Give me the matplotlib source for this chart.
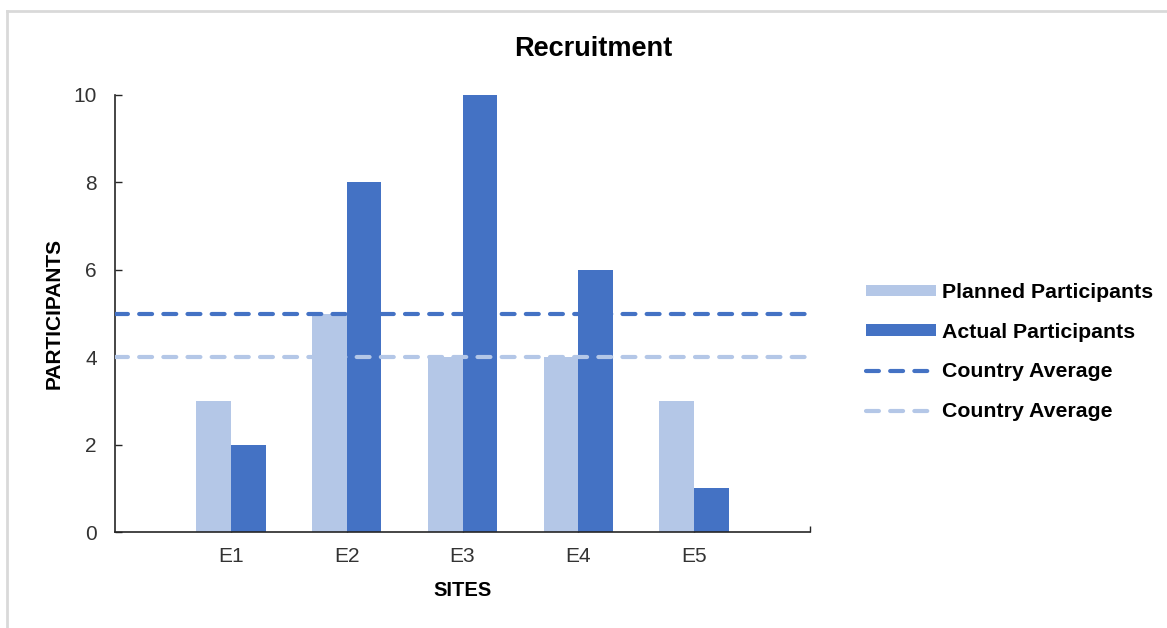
import matplotlib
matplotlib.use("Agg")
import matplotlib.pyplot as plt
from matplotlib.lines import Line2D
import numpy as np

plt.rcParams['font.family'] = ['Liberation Sans', 'DejaVu Sans']

# Data
sites = ["E1", "E2", "E3", "E4", "E5"]
planned = [3, 5, 4, 4, 3]
actual = [2, 8, 10, 6, 1]
country_avg_actual = 5
country_avg_planned = 4
y_ticks = [0, 2, 4, 6, 8, 10]

light_blue = "#B4C7E7"
dark_blue = "#4472C4"
text_col = "#333333"

W, H = 1167, 628
fig = plt.figure(figsize=(W / 100, H / 100), dpi=100)
ax = fig.add_axes([115 / W, 1 - 532 / H, 695 / W, 437 / H])

x = np.arange(1, len(sites) + 1)
bw = 0.3
ax.bar(x - bw / 2, planned, width=bw, color=light_blue, label="Planned Participants", zorder=2)
ax.bar(x + bw / 2, actual, width=bw, color=dark_blue, label="Actual Participants", zorder=2)

dash = (0, (3.1, 2.7))
ax.axhline(country_avg_actual, color=dark_blue, lw=3, linestyle=dash,
           dash_capstyle="round", label="Country Average", zorder=3)
ax.axhline(country_avg_planned, color=light_blue, lw=3, linestyle=dash,
           dash_capstyle="round", label="Country Average", zorder=3)

ax.set_xlim(0, 6)
ax.set_ylim(0, 10)
ax.set_xticks(x)
ax.set_xticklabels(sites)
ax.set_xticks([6], minor=True)
ax.set_yticks(y_ticks)

for s in ["top", "right"]:
    ax.spines[s].set_visible(False)
for s in ["left", "bottom"]:
    ax.spines[s].set_color("#262626")
    ax.spines[s].set_linewidth(1.2)

ax.tick_params(axis="y", direction="in", length=5, width=1.0, pad=13,
               labelsize=15, labelcolor=text_col, color="#262626")
ax.tick_params(axis="x", which="both", direction="in", length=4, width=1.0, pad=11,
               labelsize=15, labelcolor=text_col, color="#262626")

fig.text(593 / W, 1 - 49 / H, "Recruitment", ha="center", va="center",
         fontsize=19.5, fontweight="bold", color="#000000")
fig.text(54 / W, 1 - 313 / H, "PARTICIPANTS", rotation=90, ha="center", va="center",
         fontsize=15, fontweight="bold", color="#000000")
fig.text(463 / W, 1 - 590 / H, "SITES", ha="center", va="center",
         fontsize=14.5, fontweight="bold", color="#000000")

handles, labels = ax.get_legend_handles_labels()
# bars first, then lines
order = [2, 3, 0, 1]
handles = [handles[i] for i in order]
labels = [labels[i] for i in order]
leg = fig.legend(handles, labels, loc="center left", bbox_to_anchor=(866 / W, 1 - 352 / H),
                 frameon=False, borderpad=0, borderaxespad=0, handlelength=3.3,
                 handleheight=0.42, handletextpad=0.28, labelspacing=0.98,
                 prop={"size": 15.3, "weight": "bold"})

# chart frame edges
fig.add_artist(Line2D([7 / W, 1], [1 - 11 / H, 1 - 11 / H], color="#D9D9D9", lw=2,
                      transform=fig.transFigure))
fig.add_artist(Line2D([7 / W, 7 / W], [0, 1 - 11 / H], color="#D9D9D9", lw=2,
                      transform=fig.transFigure))

fig.savefig("out.png", dpi=100)
